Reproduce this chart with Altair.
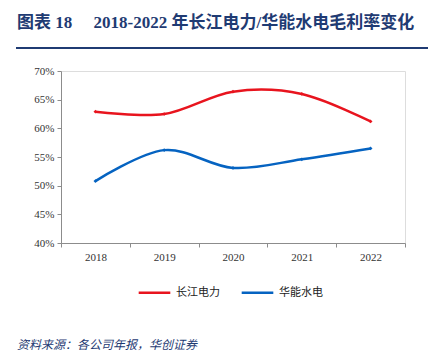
import altair as alt
import pandas as pd

years = ["2018", "2019", "2020", "2021", "2022"]
cjdl = [0.629, 0.625, 0.664, 0.660, 0.612]
hnsd = [0.508, 0.562, 0.531, 0.546, 0.565]
series_names = ["长江电力", "华能水电"]
colors = ["#E8141E", "#0563C1"]
y_ticks = [0.40, 0.45, 0.50, 0.55, 0.60, 0.65, 0.70]

NB = "\u00a0"
title_text = "图表" + NB + "18" + NB * 5 + "2018-2022" + NB + "年长江电力/华能水电毛利率变化"
source_text = "资料来源：各公司年报，华创证券"

rows = []
for i, y in enumerate(years):
    rows.append({"year": y, "series": series_names[0], "v": cjdl[i]})
    rows.append({"year": y, "series": series_names[1], "v": hnsd[i]})
df = pd.DataFrame(rows)

W, H = 344, 172
SERIF = "'Times New Roman', 'Liberation Serif', serif"

lines = alt.Chart(df).mark_line(
    interpolate="cardinal", strokeWidth=2.5,
    point=alt.OverlayMarkDef(size=14, filled=True, shape="diamond")
).encode(
    x=alt.X("year:O", title=None, bandPosition=0.5,
            scale=alt.Scale(type="band", paddingInner=0, paddingOuter=0),
            axis=alt.Axis(tickBand="extent", labelAngle=0, labelFont=SERIF,
                          labelFontSize=11, labelColor="#333333", domainColor="#8c8c8c",
                          tickColor="#8c8c8c", tickSize=4, labelPadding=4)),
    y=alt.Y("v:Q", title=None,
            scale=alt.Scale(domain=[0.4, 0.7], nice=False, zero=False),
            axis=alt.Axis(values=y_ticks, format=".0%", grid=False, labelFont=SERIF,
                          labelFontSize=11, labelColor="#333333", domainColor="#8c8c8c",
                          tickColor="#8c8c8c", tickSize=4, labelPadding=3)),
    color=alt.Color("series:N", sort=series_names,
                    scale=alt.Scale(domain=series_names, range=colors),
                    legend=alt.Legend(title=None, orient="none", direction="horizontal",
                                      legendX=76, legendY=204, symbolType="stroke",
                                      symbolSize=1000, symbolStrokeWidth=2.5,
                                      labelFont="Noto Sans CJK SC", labelFontSize=11,
                                      labelColor="#222222", columnPadding=16, labelOffset=4)),
)

one = pd.DataFrame({"t": [title_text], "s": [source_text]})

title = alt.Chart(one).mark_text(
    align="left", baseline="alphabetic", font="'Times New Roman', 'Liberation Serif', 'Noto Sans CJK SC'",
    fontSize=17, fontWeight="bold", color="#1F3B73"
).encode(text="t:N", x=alt.value(-44), y=alt.value(-43))

rule = alt.Chart(one).mark_rule(color="#1F3B73", strokeWidth=2).encode(
    x=alt.value(-45), x2=alt.value(367), y=alt.value(-23))

source = alt.Chart(one).mark_text(
    align="left", baseline="middle", font="Noto Sans CJK SC",
    fontSize=12, fontStyle="italic", color="#1F3B73"
).encode(text="s:N", x=alt.value(-44), y=alt.value(274))

chart = alt.layer(lines, title, rule, source).properties(
    width=W, height=H,
    autosize=alt.AutoSizeParams(type="none"),
    padding={"left": 61, "top": 71, "right": 32, "bottom": 110},
).configure_view(stroke=None).configure(background="white")

chart.save("out.html", embed_options={"renderer": "svg", "actions": False})
